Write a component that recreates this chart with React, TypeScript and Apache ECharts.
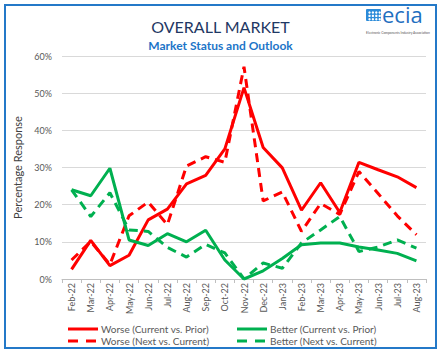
import React, { useEffect, useRef } from "react";
import * as echarts from "echarts";

const months = ["Feb-22","Mar-22","Apr-22","May-22","Jun-22","Jul-22","Aug-22","Sep-22","Oct-22","Nov-22","Dec-22","Jan-23","Feb-23","Mar-23","Apr-23","May-23","Jun-23","Jul-23","Aug-23"];
const worseCurrent = [2.6,10.4,3.6,6.4,15.9,18.8,25.6,27.9,35.0,51.5,35.4,29.9,18.5,25.9,17.9,31.4,29.4,27.5,24.6];
const worseNext = [5.1,10.1,3.9,17.0,20.7,14.6,30.4,32.9,31.4,57.1,21.0,23.4,12.8,20.3,17.4,28.9,23.0,17.0,11.9];
const betterCurrent = [24.0,22.4,29.8,10.5,9.0,12.2,10.0,13.1,5.1,0,2.2,5.5,9.2,9.7,9.7,8.6,7.8,6.9,4.9];
const betterNext = [24.0,16.8,23.2,13.2,12.8,8.5,5.9,9.3,7.0,0,4.3,2.9,9.7,13.2,16.8,7.4,8.6,10.5,8.3];
const seriesNames = ["Worse (Current vs. Prior)","Worse (Next vs. Current)","Better (Current vs. Prior)","Better (Next vs. Current)"];

const RED = "#FF0000";
const GREEN = "#00B050";
const FONT = "Lato, 'Open Sans', sans-serif";
const DASH = [9, 6];

export default function App() {
  const ref = useRef<HTMLDivElement>(null);
  useEffect(() => {
    if (!ref.current) return;
    const chart = echarts.init(ref.current, undefined, { renderer: "svg" });
    const mk = (name: string, data: number[], color: string, dashed: boolean) => ({
      name,
      type: "line",
      data,
      symbol: "none",
      showSymbol: false,
      lineStyle: { color, width: 3, type: dashed ? DASH : "solid" },
      itemStyle: { color },
    });
    const dots: any[] = [];
    for (let r = 0; r < 3; r++) {
      for (let c = 0; c < 4; c++) {
        dots.push({
          type: "circle",
          shape: { cx: 369.5 + c * 3.4, cy: 12.5 + r * 3.4, r: 1.2 },
          style: { fill: "#ffffff" },
        });
      }
    }
    const legendItems = [
      { name: seriesNames[0], color: RED, dashed: false, x: 68, y: 329 },
      { name: seriesNames[1], color: RED, dashed: true, x: 68, y: 341 },
      { name: seriesNames[2], color: GREEN, dashed: false, x: 237, y: 329 },
      { name: seriesNames[3], color: GREEN, dashed: true, x: 237, y: 341 },
    ];
    const legendGraphics: any[] = [];
    legendItems.forEach((it) => {
      legendGraphics.push({
        type: "line",
        shape: { x1: it.x, y1: it.y, x2: it.x + 30, y2: it.y },
        style: { stroke: it.color, lineWidth: 3, lineDash: it.dashed ? [10, 8] : null },
      });
      legendGraphics.push({
        type: "text",
        x: it.x + 33,
        y: it.y,
        style: {
          text: it.name,
          fontSize: 10,
          fill: "#595959",
          fontFamily: FONT,
          verticalAlign: "middle",
          align: "left",
        },
      });
    });
    chart.setOption({
      animation: false,
      backgroundColor: "#ffffff",
      textStyle: { fontFamily: FONT },
      title: [
        {
          text: "OVERALL MARKET",
          left: "center",
          top: 13,
          textStyle: { fontSize: 16, fontWeight: "normal", color: "#1F3864", fontFamily: FONT },
        },
        {
          text: "Market Status and Outlook",
          left: "center",
          top: 34,
          textStyle: { fontSize: 12, fontWeight: "bold", color: "#1C75C8", fontFamily: FONT },
        },
      ],
      legend: { show: false },
      grid: { left: 62, right: 15, top: 56, bottom: 73, containLabel: false },
      xAxis: {
        type: "category",
        data: months,
        boundaryGap: true,
        axisLine: { lineStyle: { color: "#BFBFBF", width: 1 } },
        axisTick: { show: true, interval: 0, length: 4, lineStyle: { color: "#BFBFBF" } },
        axisLabel: { rotate: 90, interval: 0, fontSize: 9, color: "#595959", margin: 4, fontFamily: FONT },
      },
      yAxis: {
        type: "value",
        min: 0,
        max: 60,
        interval: 10,
        name: "Percentage Response",
        nameLocation: "middle",
        nameGap: 35,
        nameRotate: 90,
        nameTextStyle: { fontSize: 11, color: "#404040", fontFamily: FONT },
        axisLine: { show: false },
        axisTick: { show: false },
        axisLabel: { formatter: "{value}%", fontSize: 9, color: "#595959", margin: 10, fontFamily: FONT },
        splitLine: { lineStyle: { color: "#D9D9D9", width: 1 } },
      },
      series: [
        mk(seriesNames[0], worseCurrent, RED, false),
        mk(seriesNames[1], worseNext, RED, true),
        mk(seriesNames[2], betterCurrent, GREEN, false),
        mk(seriesNames[3], betterNext, GREEN, true),
      ],
      graphic: [
        {
          type: "rect",
          shape: { x: 5, y: 5, width: 431, height: 343 },
          style: { fill: "none", stroke: "#2479C8", lineWidth: 2 },
          silent: true,
        },
        {
          type: "rect",
          shape: { x: 366, y: 9, width: 15, height: 12, r: 1 },
          style: { fill: "#2B8BD9" },
        },
        ...dots,
        {
          type: "text",
          x: 382,
          y: 3,
          style: { text: "ecia", fontSize: 22, fill: "#1F6FBF", fontFamily: "'Open Sans', sans-serif" },
        },
        {
          type: "text",
          x: 366,
          y: 31,
          style: { text: "Electronic Components Industry Association", fontSize: 3.3, fill: "#555555", fontFamily: FONT },
        },
        ...legendGraphics,
      ],
    });
    return () => chart.dispose();
  }, []);
  return (
    <div
      ref={ref}
      style={{ position: "absolute", left: 0, top: 0, width: 441, height: 352 }}
    />
  );
}
